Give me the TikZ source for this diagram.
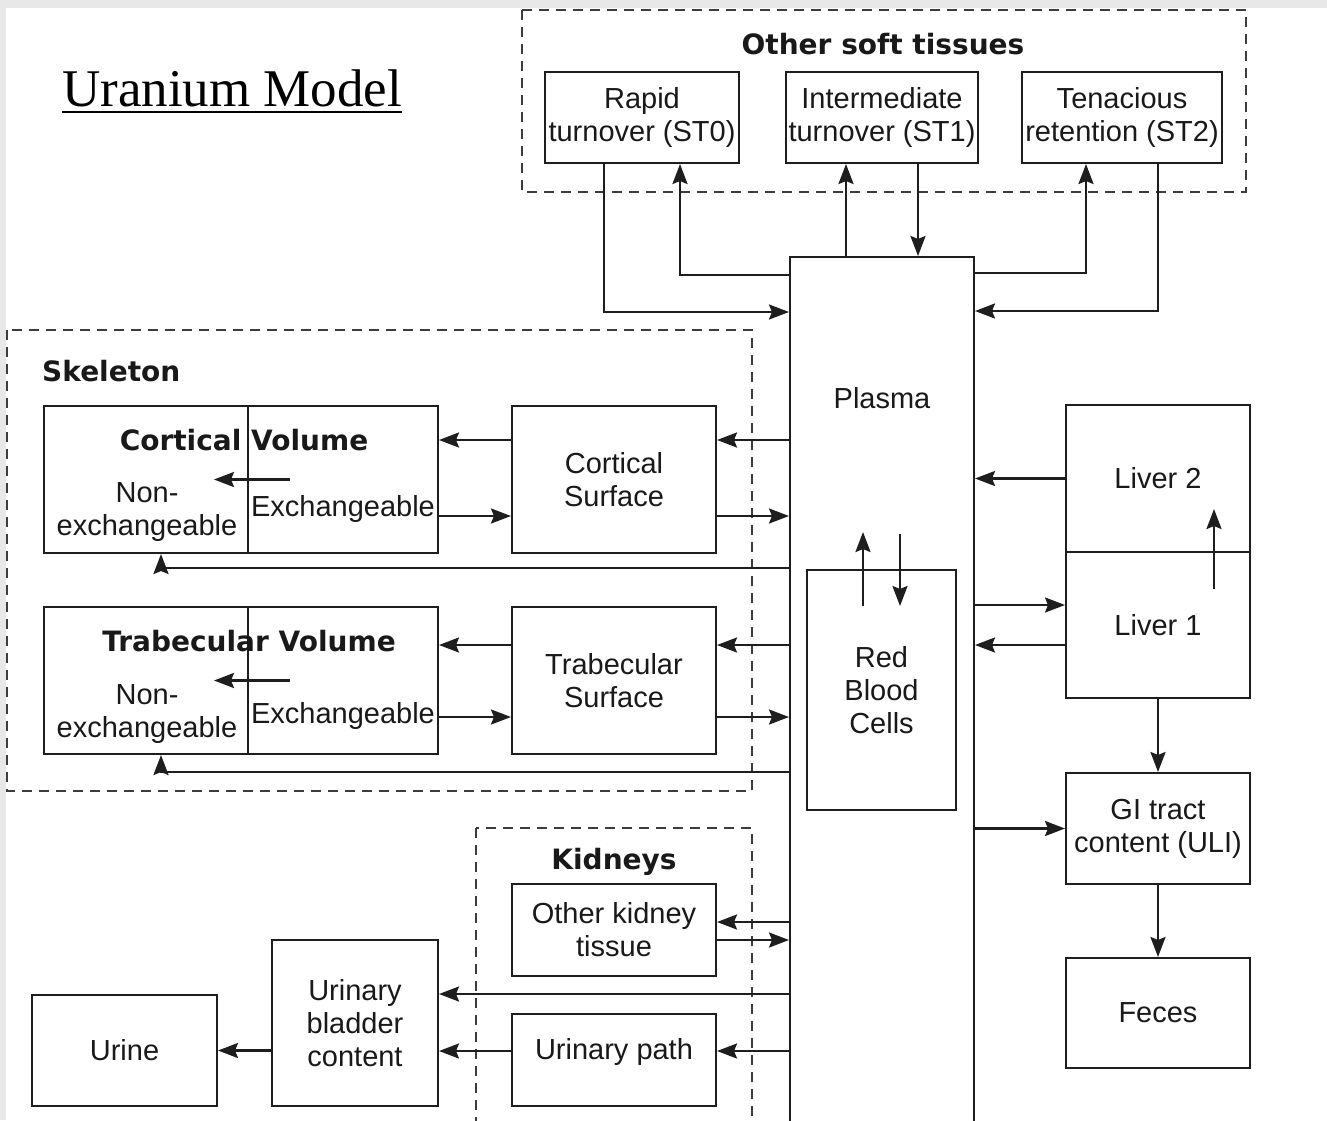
\documentclass[tikz,border=0pt]{standalone}
\usepackage{fontspec}
\setmainfont{Liberation Sans}
\newfontfamily\headfont{DejaVu Sans}
\newfontfamily\titlefont{Liberation Serif}
\usetikzlibrary{arrows.meta}
\definecolor{LineGray}{RGB}{30,30,30}
\definecolor{DashGray}{RGB}{60,60,60}
\definecolor{FrameGray}{RGB}{232,232,232}
\definecolor{TextGray}{RGB}{25,25,25}

\begin{document}
\begin{tikzpicture}[x=1pt, y=-1pt,
  box/.style={draw=LineGray, line width=2pt, inner sep=0pt, align=center, text=TextGray, font=\fontsize{29}{33}\selectfont},
  txt/.style={inner sep=0pt, align=center, text=TextGray, font=\fontsize{29}{33}\selectfont},
  head/.style={inner sep=0pt, text=TextGray, font=\headfont\bfseries\fontsize{28}{32}\selectfont},
  arr/.style={draw=LineGray, line width=2.4pt, -{Stealth[length=20pt, width=15pt, inset=3pt]}},
  group/.style={draw=DashGray, line width=2.2pt, dash pattern=on 10pt off 7pt}]
\useasboundingbox (0,0) rectangle (1327,1120);
\clip (0,0) rectangle (1327,1120);
\fill[FrameGray] (0,0) rectangle (1327,1120);
\fill[white] (6,8) rectangle (1327,1120);
\node[inner sep=0pt, anchor=base west, text=black, font=\titlefont\fontsize{53}{60}\selectfont] at (62,106) (title) {Uranium Model};
\draw[line width=2.5pt] ([yshift=-6pt]title.base west) -- ([yshift=-6pt]title.base east);
\draw[group] (522,10) rectangle (1246,192);
\draw[group] (7,330) rectangle (752,791);
\draw[group] (476,828) rectangle (752,1140);
\node[head] at (883,44) (softhead) {Other soft tissues};
\node[head, anchor=west] at (42,371) (skelhead) {Skeleton};
\node[head] at (614,862) (kidhead) {Kidneys};
\node[box, minimum width=194pt, minimum height=91pt] at (642,117.5) (ST0) {Rapid\\turnover (ST0)};
\node[box, minimum width=192pt, minimum height=91pt] at (882,117.5) (ST1) {Intermediate\\turnover (ST1)};
\node[box, minimum width=200pt, minimum height=91pt] at (1122,117.5) (ST2) {Tenacious\\retention (ST2)};
\node[box, minimum width=184pt, minimum height=883pt] at (882,698.5) (Plasma) {};
\node[txt] at (882,398) (plasmalab) {Plasma};
\node[box, minimum width=204pt, minimum height=147pt] at (146,479.5) (CVn) {};
\node[box, minimum width=190pt, minimum height=147pt] at (343,479.5) (CVe) {};
\node[head] at (244,440) (cvhead) {Cortical Volume};
\node[txt] at (147,512) (cvnlab) {Non-\\exchangeable};
\node[txt] at (343,509) (cvelab) {Exchangeable};
\node[box, minimum width=204pt, minimum height=147pt] at (614,479.5) (CS) {Cortical\\Surface};
\node[box, minimum width=204pt, minimum height=147pt] at (146,680.5) (TVn) {};
\node[box, minimum width=190pt, minimum height=147pt] at (343,680.5) (TVe) {};
\node[head] at (249,641) (tvhead) {Trabecular Volume};
\node[txt] at (147,714) (tvnlab) {Non-\\exchangeable};
\node[txt] at (343,716) (tvelab) {Exchangeable};
\node[box, minimum width=204pt, minimum height=147pt] at (614,680.5) (TS) {Trabecular\\Surface};
\node[box, minimum width=149pt, minimum height=240pt] at (881.5,690) (RBC) {Red\\Blood\\Cells};
\node[box, minimum width=184pt, minimum height=147pt] at (1158,478.5) (L2) {Liver 2};
\node[box, minimum width=184pt, minimum height=146pt] at (1158,625) (L1) {Liver 1};
\node[box, minimum width=184pt, minimum height=111pt] at (1158,828.5) (GI) {GI tract\\content (ULI)};
\node[box, minimum width=184pt, minimum height=110pt] at (1158,1013) (Feces) {Feces};
\node[box, minimum width=204pt, minimum height=92pt] at (614,930) (OKT) {Other kidney\\tissue};
\node[box, minimum width=204pt, minimum height=92pt] at (614,1060) (UP) {};
\node[txt] at (614,1052) (uplab) {Urinary path};
\node[box, minimum width=166pt, minimum height=166pt] at (355,1023) (UBC) {Urinary\\bladder\\content};
\node[box, minimum width=185pt, minimum height=111pt] at (124.5,1050.5) (Urine) {Urine};
\draw[arr] ([xshift=-38pt]ST0.south) |- ([yshift=386.5pt]Plasma.west);
\draw[arr] ([yshift=423.5pt]Plasma.west) -| ([xshift=38pt]ST0.south);
\draw[arr] ([xshift=-36pt]Plasma.north) -- ([xshift=-36pt]ST1.south);
\draw[arr] ([xshift=36pt]ST1.south) -- ([xshift=36pt]Plasma.north);
\draw[arr] ([yshift=425.5pt]Plasma.east) -| ([xshift=-36pt]ST2.south);
\draw[arr] ([xshift=36pt]ST2.south) |- ([yshift=387.5pt]Plasma.east);
\draw[arr] ([yshift=39.5pt]CS.east -| Plasma.west) -- ([yshift=39.5pt]CS.east);
\draw[arr] ([yshift=-36.5pt]CS.east) -- ([yshift=-36.5pt]CS.east -| Plasma.west);
\draw[arr] ([yshift=39.5pt]CS.west) -- ([yshift=39.5pt]CS.west -| CVe.east);
\draw[arr] ([yshift=-36.5pt]CVe.east) -- ([yshift=-36.5pt]CVe.east -| CS.west);
\draw[arr] ([xshift=43pt]CVe.west) -- ([xshift=-35pt]CVn.east);
\draw[arr] ([yshift=130.5pt]Plasma.west) -| ([xshift=15pt]CVn.south);
\draw[arr] ([yshift=35.5pt]TS.east -| Plasma.west) -- ([yshift=35.5pt]TS.east);
\draw[arr] ([yshift=-36.5pt]TS.east) -- ([yshift=-36.5pt]TS.east -| Plasma.west);
\draw[arr] ([yshift=35.5pt]TS.west) -- ([yshift=35.5pt]TS.west -| TVe.east);
\draw[arr] ([yshift=-36.5pt]TVe.east) -- ([yshift=-36.5pt]TVe.east -| TS.west);
\draw[arr] ([xshift=43pt]TVe.west) -- ([xshift=-35pt]TVn.east);
\draw[arr] ([yshift=-73.5pt]Plasma.west) -| ([xshift=15pt]TVn.south);
\draw[arr] ([xshift=-18.5pt,yshift=-37pt]RBC.north) -- ([xshift=-18.5pt,yshift=37pt]RBC.north);
\draw[arr] ([xshift=18.5pt,yshift=35pt]RBC.north) -- ([xshift=18.5pt,yshift=-37pt]RBC.north);
\draw[arr] (L2.west) -- (L2.west -| Plasma.east);
\draw[arr] ([yshift=20pt]L1.west -| Plasma.east) -- ([yshift=20pt]L1.west);
\draw[arr] ([yshift=-20pt]L1.west) -- ([yshift=-20pt]L1.west -| Plasma.east);
\draw[arr] ([xshift=56pt,yshift=36pt]L1.center) -- ([xshift=56pt,yshift=-30.5pt]L2.center);
\draw[arr] (L1.south) -- (GI.north);
\draw[arr] (GI.west -| Plasma.east) -- (GI.west);
\draw[arr] (GI.south) -- (Feces.north);
\draw[arr] ([yshift=8pt]OKT.east -| Plasma.west) -- ([yshift=8pt]OKT.east);
\draw[arr] ([yshift=-10pt]OKT.east) -- ([yshift=-10pt]OKT.east -| Plasma.west);
\draw[arr] ([yshift=29pt]UBC.east -| Plasma.west) -- ([yshift=29pt]UBC.east);
\draw[arr] ([yshift=9pt]UP.east -| Plasma.west) -- ([yshift=9pt]UP.east);
\draw[arr] ([yshift=9pt]UP.west) -- ([yshift=9pt]UP.west -| UBC.east);
\draw[arr] (Urine.east -| UBC.west) -- (Urine.east);
\end{tikzpicture}
\end{document}
